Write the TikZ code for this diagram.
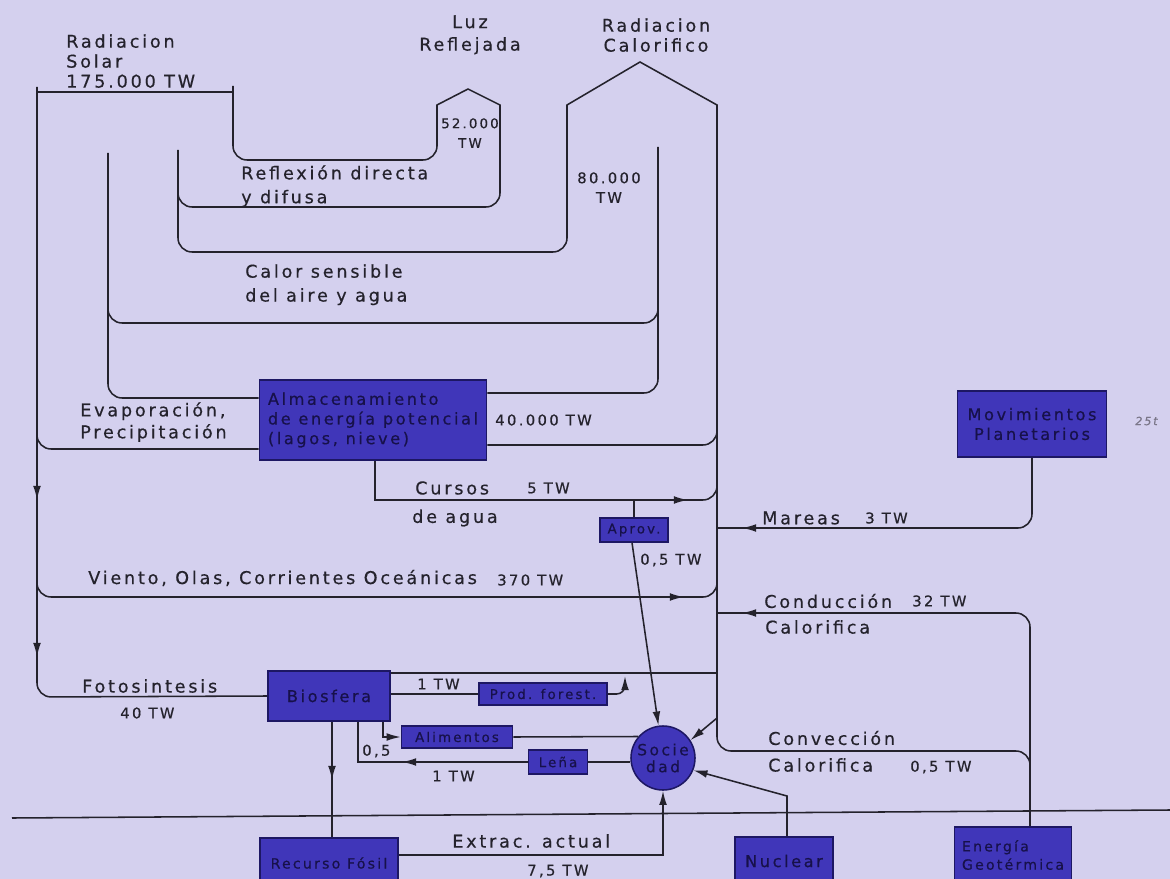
\documentclass[tikz,border=0pt]{standalone}
\usepackage{fontspec}
\setmainfont{DejaVu Sans}[LetterSpace=16, FakeBold=0.5]
\usetikzlibrary{arrows.meta, positioning}

\definecolor{LilaFondo}{HTML}{D4D0EE}
\definecolor{AzulCaja}{HTML}{4036B9}
\definecolor{AzulBorde}{HTML}{1D1763}
\definecolor{AzulTexto}{HTML}{17114A}
\definecolor{Tinta}{HTML}{24222C}
\definecolor{Lapiz}{HTML}{7A7688}

\tikzset{
  caja/.style 2 args={rectangle, draw=AzulBorde, fill=AzulCaja, text=AzulTexto,
    line width=1.1pt, inner sep=1pt, align=center,
    font=\fontsize{11.5}{14}\selectfont,
    minimum width=#1*0.025cm, minimum height=#2*0.025cm},
  cajita/.style 2 args={caja={#1}{#2}, font=\fontsize{9.5}{10}\selectfont},
  globo/.style={circle, draw=AzulBorde, fill=AzulCaja, text=AzulTexto, line width=1.1pt,
    inner sep=0pt, minimum size=64*0.025cm, align=center, font=\fontsize{11}{12}\selectfont},
  rotulo/.style={inner sep=0pt, text=Tinta, align=left, font=\fontsize{12.5}{16}\selectfont},
  cifra/.style={inner sep=0pt, text=Tinta, align=center, font=\fontsize{10.5}{14}\selectfont},
  flujo/.style={draw=Tinta, line width=1.1pt, rounded corners=10pt},
  quiebre/.style={draw=Tinta, line width=1.1pt, sharp corners},
  punta/.style={-{Latex[length=10pt,width=5.5pt]}},
}

\begin{document}
\begin{tikzpicture}[x=0.025cm, y=-0.025cm]
\useasboundingbox (0,0) rectangle (1170,879);
\fill[LilaFondo] (0,0) rectangle (1170,879);
\clip (0,0) rectangle (1170,879);

% depositos y usos
\node[caja={227}{80}, align=left] (alm) at (373,420) {Almacenamiento\\de energía potencial\\(lagos, nieve)};
\node[caja={149}{66}] (mov) at (1032,424) {Movimientos\\Planetarios};
\node[cajita={68}{24}] (aprov) at (634,530) {Aprov.};
\node[caja={122}{50}] (bio) at (329,696) {Biosfera};
\node[cajita={128}{22}] (prod) at (543,694) {Prod. forest.};
\node[cajita={111}{22}] (alim) at (457,737) {Alimentos};
\node[cajita={59}{24}] (lena) at (558,762) {Leña};
\node[globo] (soc) at (663,758) {Socie\\dad};
\node[caja={138}{50}, font=\fontsize{10}{12}\selectfont] (fosil) at (329,863) {Recurso Fósil};
\node[caja={98}{48}] (nuc) at (784,861) {Nuclear};
\node[caja={117}{56}, align=left, font=\fontsize{10}{13}\selectfont] (geo) at (1013,855) {Energía\\Geotérmica};

% radiacion solar y reflexion
\draw[quiebre] (37,92) -- (233,92);
\draw[flujo] (37,87) -- (37,697) -- (bio.west);
\draw[flujo] (233,86) -- (233,160) -- (437,160) -- (437,112);
\draw[quiebre] (437,114) -- (437,105) -- (468,89) -- (500,105) -- (500,114);
\draw[flujo] (500,112) -- (500,207) -- (178,207) -- (178,150);

% calor sensible y radiacion calorifica
\draw[flujo] (178,190) -- (178,252) -- (567,252) -- (567,112);
\draw[quiebre] (567,114) -- (567,105) -- (640,62) -- (717,105) -- (717,114);
\draw[flujo] (717,112) -- (717,751) -- (1030,751) -- (1030,790);
\draw[flujo] (108,153) -- (108,323) -- (658,323) -- (658,147);

% almacenamiento
\draw[flujo] (108,300) -- (108,398) -- (alm.west |- 0,398);
\draw[flujo] (alm.east |- 0,393) -- (658,393) -- (658,300);
\draw[flujo] (37,420) -- (37,449) -- (alm.west |- 0,449);
\draw[flujo] (alm.east |- 0,445) -- (717,445) -- (717,420);

% cursos de agua, viento
\draw[quiebre] (alm.south -| 375,0) -- (375,500) -- (600,500);
\draw[flujo] (590,500) -- (717,500) -- (717,480);
\draw[quiebre] (aprov.north) -- (aprov.north |- 0,500);
\draw[flujo, punta] (670,500) -- (688,500);
\draw[flujo] (37,570) -- (37,597) -- (717,597) -- (717,570);
\draw[flujo, punta] (665,597) -- (684,597);
\draw[flujo, punta] (37,482) -- (37,500);
\draw[flujo, punta] (37,639) -- (37,657);

% mareas y geotermia
\draw[flujo] (mov.south) -- (mov.south |- 0,528) -- (717,528);
\draw[flujo, punta] (760,528) -- (742,528);
\draw[flujo] (717,613) -- (1030,613) -- (geo.north -| 1030,0);
\draw[flujo, punta] (760,613) -- (742,613);

% biosfera
\draw[quiebre] (bio.east |- 0,673) -- (717,673);
\draw[quiebre] (bio.east |- 0,694) -- (prod.west);
\draw[flujo, rounded corners=6pt, punta] (prod.east) -- (625,694) -- (625,676);
\draw[quiebre, punta] (bio.south -| 383,0) |- (alim.west);
\draw[quiebre] (alim.east) -- (soc.139);
\draw[quiebre] (soc.west |- lena.east) -- (lena.east);
\draw[quiebre] (lena.west) -| (bio.south -| 358,0);
\draw[quiebre, punta] (420,762) -- (402,762);
\draw[quiebre] (bio.south -| 332,0) -- (fosil.north -| 332,0);
\draw[quiebre, punta] (332,762) -- (332,780);

% sociedad
\draw[quiebre, punta] (aprov.south -| 632,0) -- (soc.98);
\draw[quiebre, punta] (717,718) -- (soc.33);
\draw[quiebre, punta] (nuc.north -| 787,0) -- (787,796) -- (soc.-22);
\draw[quiebre, punta] (fosil.east |- 0,855) -| (soc.south);

% superficie
\draw[quiebre] (12,818) -- (1170,810);

% rotulos
\node[rotulo, anchor=north west, font=\fontsize{12.5}{14.2}\selectfont] (solar) at (66,34) {Radiacion\\Solar\\175.000 TW};
\node[rotulo, anchor=north, align=center] (luz) at (470,15) {Luz\\Reflejada};
\node[rotulo, anchor=north, align=center, font=\fontsize{12.5}{14.2}\selectfont] (calrad) at (656,18) {Radiacion\\Calorifico};
\node[cifra, anchor=north, font=\fontsize{9.5}{14}\selectfont] (luzval) at (470,118) {52.000\\TW};
\node[cifra, anchor=north] (calval) at (609,172) {80.000\\TW};
\node[rotulo, anchor=north west, font=\fontsize{12.5}{17}\selectfont] (refl) at (241,165) {Reflexión directa\\y difusa};
\node[rotulo, anchor=north west, font=\fontsize{12.5}{17}\selectfont] (sens) at (245,264) {Calor sensible\\del aire y agua};
\node[rotulo, anchor=north west, font=\fontsize{12.5}{15.6}\selectfont] (evap) at (80,402) {Evaporación,\\Precipitación};
\node[cifra, anchor=west] (almval) at (495,420) {40.000 TW};
\node[rotulo, anchor=west] (cursos) at (415,488) {Cursos};
\node[cifra, anchor=west] (cursval) at (527,488) {5 TW};
\node[rotulo, anchor=west] (agua) at (412,518) {de agua};
\node[cifra, anchor=west] (aprval) at (640,560) {0,5 TW};
\node[rotulo, anchor=west] (viento) at (88,578) {Viento, Olas, Corrientes Oceánicas};
\node[cifra, anchor=west] (vientoval) at (497,580) {370 TW};
\node[rotulo, anchor=west] (mareas) at (762,518) {Mareas};
\node[cifra, anchor=west] (mareasval) at (865,518) {3 TW};
\node[rotulo, anchor=west] (cond) at (764,601) {Conducción};
\node[cifra, anchor=west] (condval) at (912,601) {32 TW};
\node[rotulo, anchor=west] (condcal) at (765,627) {Calorifica};
\node[rotulo, anchor=west] (conv) at (768,738) {Convección};
\node[rotulo, anchor=west] (convcal) at (768,765) {Calorifica};
\node[cifra, anchor=west] (convval) at (910,767) {0,5 TW};
\node[rotulo, anchor=west] (foto) at (82,686) {Fotosintesis};
\node[cifra, anchor=west] (fotoval) at (120,713) {40 TW};
\node[cifra, anchor=west] (prodval) at (417,684) {1 TW};
\node[cifra, anchor=west] (alimval) at (362,751) {0,5};
\node[cifra, anchor=west] (lenaval) at (432,776) {1 TW};
\node[rotulo, anchor=west] (extrac) at (452,841) {Extrac. actual};
\node[cifra, anchor=west] (extracval) at (527,871) {7,5 TW};
\node[anchor=west, inner sep=0pt, text=Lapiz, font=\fontsize{8}{9}\itshape] (nota) at (1135,421) {25t};
\end{tikzpicture}
\end{document}
